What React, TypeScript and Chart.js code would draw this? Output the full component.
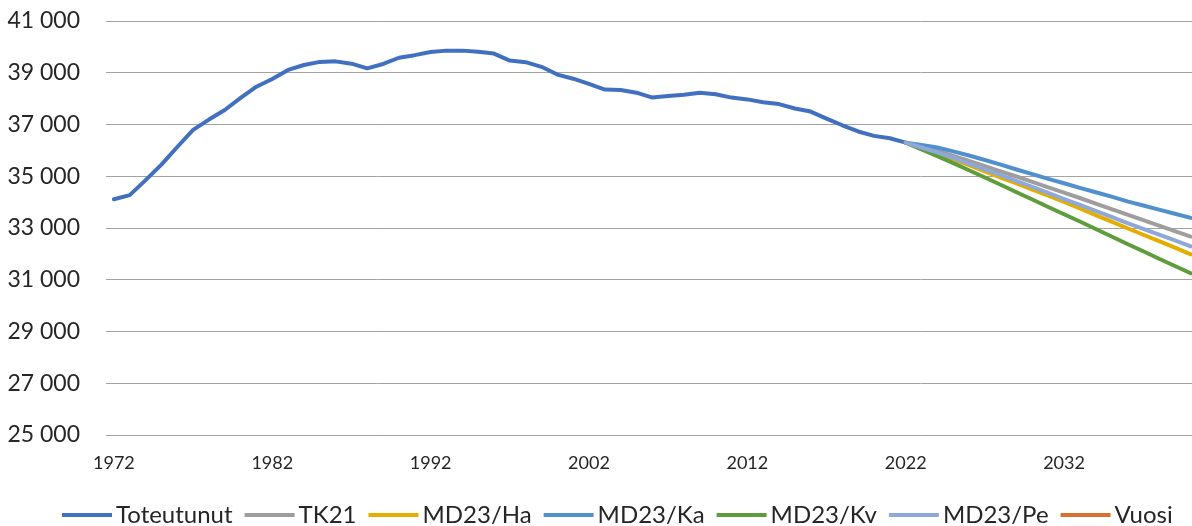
import React, { useEffect, useRef } from "react";
import { Chart, registerables } from "chart.js";

Chart.register(...registerables);

// ---- Data ----
const histYears: number[] = [
  1972, 1973, 1974, 1975, 1976, 1977, 1978, 1979, 1980, 1981,
  1982, 1983, 1984, 1985, 1986, 1987, 1988, 1989, 1990, 1991,
  1992, 1993, 1994, 1995, 1996, 1997, 1998, 1999, 2000, 2001,
  2002, 2003, 2004, 2005, 2006, 2007, 2008, 2009, 2010, 2011,
  2012, 2013, 2014, 2015, 2016, 2017, 2018, 2019, 2020, 2021, 2022,
];
const toteutunut: number[] = [
  34110, 34270, 34850, 35450, 36130, 36790, 37190, 37560, 38030, 38460,
  38760, 39110, 39300, 39420, 39440, 39350, 39170, 39340, 39580, 39680,
  39800, 39855, 39855, 39815, 39740, 39470, 39410, 39230, 38930, 38770,
  38570, 38350, 38330, 38230, 38040, 38100, 38150, 38230, 38170, 38040,
  37970, 37860, 37790, 37620, 37500, 37230, 36970, 36730, 36560, 36470, 36300,
];

const projYears: number[] = [
  2022, 2023, 2024, 2025, 2026, 2027, 2028, 2029, 2030, 2031,
  2032, 2033, 2034, 2035, 2036, 2037, 2038, 2039, 2040,
];
const tk21: number[] = [
  36300, 36140, 35980, 35790, 35590, 35390, 35190, 34990, 34780, 34570,
  34370, 34160, 33940, 33730, 33520, 33300, 33090, 32880, 32670,
];
const md23Ha: number[] = [
  36300, 36090, 35880, 35650, 35430, 35190, 34950, 34720, 34480, 34250,
  34010, 33760, 33500, 33250, 32990, 32740, 32490, 32240, 31980,
];
const md23Ka: number[] = [
  36300, 36210, 36110, 35960, 35800, 35630, 35450, 35260, 35080, 34900,
  34730, 34550, 34380, 34210, 34030, 33870, 33710, 33550, 33390,
];
const md23Kv: number[] = [
  36300, 36040, 35780, 35510, 35230, 34950, 34670, 34380, 34100, 33810,
  33530, 33250, 32960, 32670, 32380, 32100, 31810, 31530, 31250,
];
const md23Pe: number[] = [
  36300, 36110, 35920, 35710, 35490, 35270, 35040, 34810, 34590, 34360,
  34120, 33890, 33660, 33430, 33190, 32970, 32740, 32520, 32290,
];
// "Vuosi" appears only in the legend (its values fall outside the axis range)
const vuosi: number[] = [];

const xTickYears: number[] = [1972, 1982, 1992, 2002, 2012, 2022, 2032];
const yMin = 25000;
const yMax = 41000;
const yStep = 2000;

const seriesNames: string[] = [
  "Toteutunut", "TK21", "MD23/Ha", "MD23/Ka", "MD23/Kv", "MD23/Pe", "Vuosi",
];
const seriesColors: string[] = [
  "#4270C0", "#9E9E9E", "#E5AD00", "#5090CC", "#5F9D3C", "#8EA8DA", "#D8702E",
];

const FONT = "Lato, 'Open Sans', sans-serif";

function fmtThousands(v: number): string {
  return String(Math.round(v)).replace(/\B(?=(\d{3})+(?!\d))/g, " ");
}

const customLegend = {
  id: "customLegend",
  afterDraw(chart: any) {
    const ctx: CanvasRenderingContext2D = chart.ctx;
    ctx.save();
    ctx.font = `24px ${FONT}`;
    ctx.textAlign = "left";
    ctx.textBaseline = "alphabetic";
    let x = 62;
    const yLine = 515;
    const yText = 523;
    chart.data.datasets.forEach((ds: any) => {
      ctx.strokeStyle = ds.borderColor;
      ctx.lineWidth = 4;
      ctx.lineCap = "butt";
      ctx.beginPath();
      ctx.moveTo(x, yLine);
      ctx.lineTo(x + 50, yLine);
      ctx.stroke();
      x += 54;
      ctx.fillStyle = "#262626";
      ctx.fillText(ds.label, x, yText);
      x += ctx.measureText(ds.label).width + 12;
    });
    ctx.restore();
  },
};

export default function App() {
  const canvasRef = useRef<HTMLCanvasElement | null>(null);

  useEffect(() => {
    const canvas = canvasRef.current;
    if (!canvas) return;

    const toPts = (xs: number[], ys: number[]) =>
      ys.map((y, i) => ({ x: xs[i], y }));

    const seriesData = [
      toPts(histYears, toteutunut),
      toPts(projYears, tk21),
      toPts(projYears, md23Ha),
      toPts(projYears, md23Ka),
      toPts(projYears, md23Kv),
      toPts(projYears, md23Pe),
      toPts(projYears, vuosi),
    ];

    const n = seriesNames.length;
    const datasets = seriesNames.map((name, i) => ({
      label: name,
      data: seriesData[i],
      borderColor: seriesColors[i],
      backgroundColor: seriesColors[i],
      borderWidth: 4,
      pointRadius: 0,
      pointHoverRadius: 0,
      tension: 0,
      borderJoinStyle: "round" as const,
      borderCapStyle: "round" as const,
      fill: false,
      order: n - i,
    }));

    const chart = new Chart(canvas, {
      type: "line",
      data: { datasets },
      plugins: [customLegend],
      options: {
        animation: false,
        responsive: false,
        devicePixelRatio: 1,
        layout: { padding: { top: 21, right: 0, bottom: 0, left: 0 } },
        plugins: {
          legend: { display: false },
          tooltip: { enabled: false },
          title: { display: false },
        },
        scales: {
          x: {
            type: "linear",
            min: 1971.5,
            max: 2040.08,
            grid: { display: false },
            border: { display: false },
            afterBuildTicks: (scale: any) => {
              scale.ticks = xTickYears.map((v) => ({ value: v }));
            },
            afterFit: (scale: any) => {
              scale.height = 91;
            },
            ticks: {
              autoSkip: false,
              maxRotation: 0,
              padding: 9,
              color: "#262626",
              font: { family: FONT, size: 18 },
              callback: (v: any) => String(v),
            },
          },
          y: {
            type: "linear",
            min: yMin,
            max: yMax,
            grid: {
              color: "#a3a3a3",
              lineWidth: 1,
              drawTicks: true,
              tickLength: 26,
              tickColor: "rgba(0,0,0,0)",
            },
            border: { display: false },
            afterFit: (scale: any) => {
              scale.width = 106;
            },
            ticks: {
              stepSize: yStep,
              padding: 0,
              color: "#262626",
              font: { family: FONT, size: 23 },
              callback: (v: any) => fmtThousands(Number(v)),
            },
          },
        },
      },
    });

    return () => {
      chart.destroy();
    };
  }, []);

  return (
    <div
      style={{
        position: "absolute",
        left: 0,
        top: 0,
        width: 1192,
        height: 526,
        background: "#ffffff",
      }}
    >
      <canvas ref={canvasRef} width={1192} height={526} />
    </div>
  );
}
